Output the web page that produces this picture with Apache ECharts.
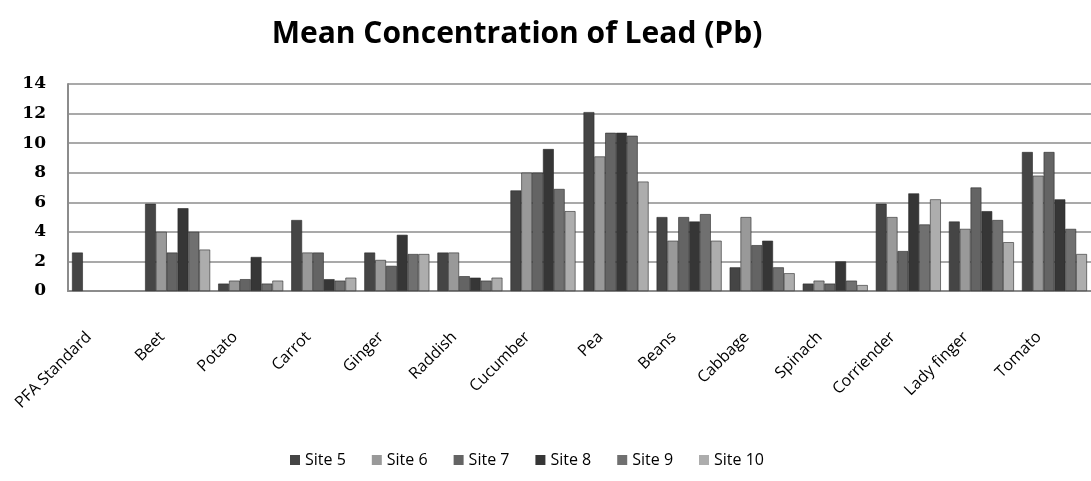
<!DOCTYPE html>
<html>
<head>
<meta charset="utf-8">
<script src="https://cdn.jsdelivr.net/npm/echarts@6/dist/echarts.min.js"></script>
<style>
	html, body { margin: 0; padding: 0; background: #fff; }
	#chart { width: 1091px; height: 481px; }
</style>
</head>
<body>
<div id="chart"></div>
<script>
// categories (x axis)
const categories = ['PFA Standard', 'Beet', 'Potato', 'Carrot', 'Ginger', 'Raddish', 'Cucumber',
	'Pea', 'Beans', 'Cabbage', 'Spinach', 'Corriender', 'Lady finger', 'Tomato'];

// mean Pb concentration per site
const site5 = [2.6, 5.9, 0.5, 4.8, 2.6, 2.6, 6.8, 12.1, 5.0, 1.6, 0.5, 5.9, 4.7, 9.4];
const site6 = [0, 4.0, 0.7, 2.6, 2.1, 2.6, 8.0, 9.1, 3.4, 5.0, 0.7, 5.0, 4.2, 7.8];
const site7 = [0, 2.6, 0.8, 2.6, 1.7, 1.0, 8.0, 10.7, 5.0, 3.1, 0.5, 2.7, 7.0, 9.4];
const site8 = [0, 5.6, 2.3, 0.8, 3.8, 0.9, 9.6, 10.7, 4.7, 3.4, 2.0, 6.6, 5.4, 6.2];
const site9 = [0, 4.0, 0.5, 0.7, 2.5, 0.7, 6.9, 10.5, 5.2, 1.6, 0.7, 4.5, 4.8, 4.2];
const site10 = [0, 2.8, 0.7, 0.9, 2.5, 0.9, 5.4, 7.4, 3.4, 1.2, 0.4, 6.2, 3.3, 2.5];

const siteNames = ['Site 5', 'Site 6', 'Site 7', 'Site 8', 'Site 9', 'Site 10'];
const siteData = [site5, site6, site7, site8, site9, site10];
const siteColors = ['#454545', '#999999', '#646464', '#363636', '#707070', '#adadad'];

const yTicks = [0, 2, 4, 6, 8, 10, 12, 14];

const chart = echarts.init(document.getElementById('chart'));

// zero values draw no bar (no outline either)
const series = siteNames.map((name, i) => ({
	name: name,
	type: 'bar',
	data: siteData[i].map((v) => ({
		value: v,
		itemStyle: { borderWidth: v > 0 ? 0.6 : 0 },
	})),
	barGap: '0%',
	barCategoryGap: '11%',
	itemStyle: {
		color: siteColors[i],
		borderColor: '#2a2a2a',
	},
}));

chart.setOption({
	animation: false,
	backgroundColor: '#ffffff',
	color: siteColors,
	title: {
		text: 'Mean Concentration of Lead (Pb)',
		left: 512,
		textAlign: 'center',
		top: 14,
		textStyle: {
			fontFamily: 'Open Sans',
			fontWeight: 'bold',
			fontSize: 30,
			color: '#000',
		},
	},
	legend: {
		bottom: 8,
		left: 285,
		itemWidth: 10,
		itemHeight: 10,
		itemGap: 26,
		icon: 'rect',
		textStyle: {
			fontFamily: 'Open Sans',
			fontSize: 16,
			color: '#000',
		},
		data: siteNames,
	},
	grid: {
		left: 68,
		right: -20,
		top: 84,
		bottom: 190,
		containLabel: false,
	},
	xAxis: {
		type: 'category',
		data: categories,
		axisLine: { show: true, lineStyle: { color: '#8c8c8c', width: 2 } },
		axisTick: { show: false },
		axisLabel: {
			interval: 0,
			rotate: 45,
			margin: 28,
			padding: [0, 22, 0, 0],
			fontFamily: 'Open Sans',
			fontSize: 16,
			color: '#000',
		},
	},
	yAxis: {
		type: 'value',
		min: yTicks[0],
		max: yTicks[yTicks.length - 1],
		interval: 2,
		axisLine: { show: true, lineStyle: { color: '#8c8c8c', width: 2 } },
		axisTick: { show: false },
		axisLabel: {
			margin: 22,
			fontFamily: 'DejaVu Serif',
			fontWeight: 'bold',
			fontSize: 17,
			color: '#000',
		},
		splitLine: { lineStyle: { color: '#8c8c8c', width: 1.5 } },
	},
	series: series,
});
</script>
</body>
</html>
